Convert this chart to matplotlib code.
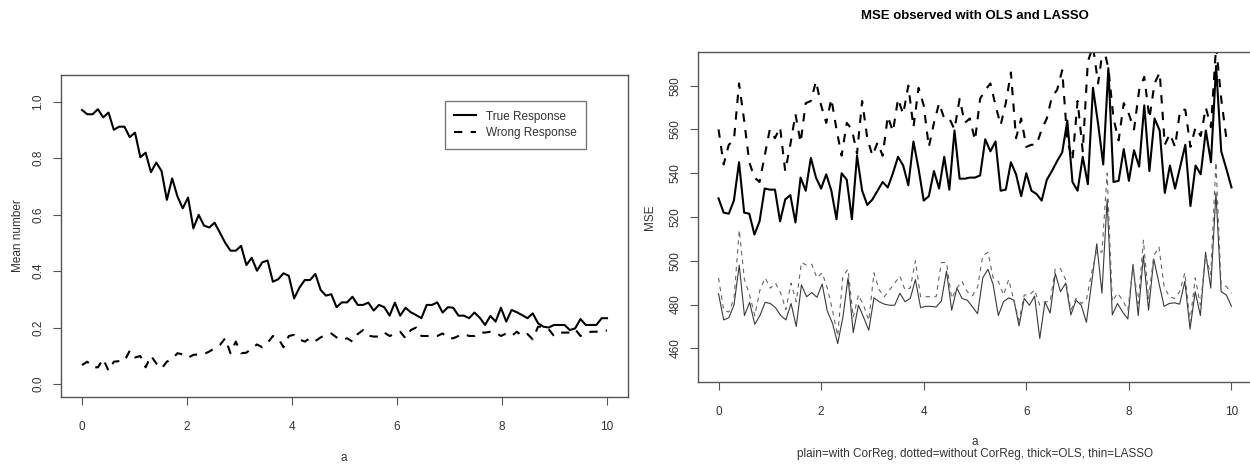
import numpy as np
import matplotlib
matplotlib.use("Agg")
import matplotlib.pyplot as plt

plt.rcParams['font.family'] = ['Liberation Sans', 'DejaVu Sans']

# ---- left panel: mean number of responses
true_resp = [0.970, 0.955, 0.955, 0.973, 0.944, 0.961, 0.900, 0.911, 0.911, 0.874,
             0.890, 0.803, 0.819, 0.750, 0.784, 0.754, 0.652, 0.728, 0.664, 0.622,
             0.660, 0.551, 0.599, 0.561, 0.554, 0.571, 0.536, 0.500, 0.472, 0.472,
             0.489, 0.421, 0.447, 0.401, 0.431, 0.437, 0.362, 0.371, 0.392, 0.383,
             0.303, 0.341, 0.368, 0.368, 0.390, 0.333, 0.313, 0.318, 0.272, 0.289,
             0.289, 0.309, 0.280, 0.280, 0.288, 0.260, 0.280, 0.272, 0.242, 0.288,
             0.242, 0.270, 0.254, 0.244, 0.233, 0.280, 0.280, 0.289, 0.253, 0.272,
             0.270, 0.242, 0.242, 0.233, 0.253, 0.235, 0.209, 0.241, 0.221, 0.270,
             0.221, 0.262, 0.254, 0.244, 0.233, 0.250, 0.215, 0.203, 0.200, 0.209,
             0.209, 0.209, 0.191, 0.197, 0.230, 0.209, 0.209, 0.209, 0.233, 0.233]
wrong_resp = [0.067, 0.079, 0.059, 0.059, 0.089, 0.047, 0.079, 0.081, 0.081, 0.118,
              0.094, 0.099, 0.059, 0.100, 0.073, 0.055, 0.079, 0.089, 0.109, 0.105,
              0.093, 0.103, 0.105, 0.106, 0.115, 0.126, 0.138, 0.162, 0.109, 0.150,
              0.109, 0.111, 0.126, 0.140, 0.130, 0.146, 0.170, 0.162, 0.130, 0.170,
              0.174, 0.158, 0.150, 0.162, 0.152, 0.165, 0.174, 0.179, 0.165, 0.156,
              0.162, 0.150, 0.177, 0.191, 0.171, 0.168, 0.168, 0.182, 0.170, 0.177,
              0.185, 0.162, 0.191, 0.200, 0.170, 0.170, 0.170, 0.170, 0.179, 0.162,
              0.162, 0.170, 0.177, 0.170, 0.170, 0.182, 0.182, 0.185, 0.182, 0.170,
              0.179, 0.170, 0.185, 0.170, 0.177, 0.158, 0.203, 0.203, 0.194, 0.170,
              0.182, 0.182, 0.182, 0.194, 0.170, 0.179, 0.185, 0.185, 0.191, 0.189]

# ---- right panel: MSE
ols_correg = [528.5, 522, 521.5, 527.5, 545, 522, 521.5, 512, 518, 533,
              532.5, 532.5, 518, 528, 530, 517.5, 538, 532, 547, 538,
              533, 539.5, 532, 519, 540, 537, 519, 548, 532, 525.5,
              528, 532, 536, 533.5, 540, 547.5, 543.5, 534.5, 554.5, 542,
              527.5, 529.5, 541, 533, 547.5, 532.5, 559.5, 537.5, 537.5, 538,
              538, 539, 555.5, 550, 554.5, 532, 532.5, 545, 539.5, 529.5,
              540, 532, 530.5, 527.5, 537, 541, 545.5, 549.5, 564, 536,
              532, 547.5, 535, 579, 562.5, 544, 588, 536, 536.5, 551,
              536.5, 550.5, 543, 571, 541, 565, 559.5, 531, 543.5, 533,
              543, 553, 525, 543.5, 539.5, 559.5, 545, 589, 550, 542, 533.5]
ols_nocorreg = [560, 544, 553, 555, 581, 564, 545, 538, 536, 548,
                560, 556, 561, 541, 553, 567, 554, 572, 573, 582,
                571, 563, 574, 560, 548, 563, 560, 549, 573, 556,
                548, 554, 548, 566, 559, 574, 567, 580, 561, 579,
                571, 552, 563, 572, 565, 565, 560, 574, 563, 565,
                555, 574, 578, 581, 571, 562, 572, 586, 556, 565,
                552, 553, 553, 560, 565, 575, 578, 587, 555, 546,
                573, 550, 591, 598, 581, 598, 588, 565, 555, 572,
                567, 560, 578, 584, 565, 581, 586, 553, 558, 552,
                569, 569, 552, 561, 557, 570, 561, 598, 574, 556, 555]
lasso_correg = [485, 473, 474, 480, 498, 475, 481, 471, 475, 481,
                480.5, 478.6, 475, 473, 480.5, 470, 489, 483.6, 485.5, 483.3,
                489.4, 477, 471.4, 462.2, 474.2, 492.2, 467.2, 479.7, 474.2, 468.3,
                483.1, 481.3, 480.2, 479.7, 479.7, 485.2, 481.3, 482.8, 491.4, 478.6,
                479.2, 479.2, 478.9, 481.6, 495.3, 477.4, 487.5, 482.8, 482, 479,
                475.8, 492.2, 496.1, 489.1, 475, 481.3, 483.1, 482, 470.3, 482.8,
                479.7, 483.9, 464.5, 481.3, 476.1, 494.2, 485.9, 489.8, 475.3, 482,
                479.7, 471.9, 489.8, 507.8, 485.2, 528, 475.3, 480.5, 476.6, 473.4,
                498.4, 475, 502.3, 477.4, 500.8, 489.8, 479.2, 480.5, 480.8, 480.2,
                490.6, 468.8, 485.9, 475, 503.9, 487.5, 531, 485.9, 484.4, 479.2]
lasso_nocorreg = [492.2, 477.4, 476.6, 482.8, 514, 491.4, 484.4, 475, 486.7, 492.2,
                  487.5, 489.8, 485.2, 477.7, 489.8, 481.3, 499.2, 498, 498.4, 492.2,
                  494.5, 487.5, 477.4, 465.7, 493, 496.1, 474.2, 484.4, 479.7, 472.7,
                  494.5, 486.7, 483.6, 486.7, 489.8, 493, 486.7, 487.5, 500, 483.6,
                  483.6, 483.6, 483.6, 499.2, 499.2, 482.8, 487.5, 490.6, 485.9, 484,
                  488, 502.3, 503.9, 492.2, 490.6, 484.4, 491.4, 482, 472.7, 484.4,
                  484.4, 486.7, 479.7, 481.3, 481.3, 496.4, 496.4, 491.4, 477.4, 482.8,
                  480.5, 482, 494.5, 504.7, 503.9, 540, 481.3, 485.2, 482, 477.4,
                  497.7, 480.5, 509.4, 482.8, 502.3, 506.3, 488.3, 483.6, 482.8, 485.9,
                  494.5, 471.9, 492.2, 479.7, 502.3, 493.8, 545, 489, 488.3, 485.2]

W, H = 1250, 467
INK = '#333333'
FS = 8.5


def px(x, y):
    # pixel position -> figure fraction
    return x / W, 1 - y / H


def r_style(ax):
    # base-R look: grey box, outward ticks, vertical y labels
    for s in ax.spines.values():
        s.set_color('#555555')
        s.set_linewidth(1.0)
    ax.tick_params(axis='both', direction='out', length=6, width=0.8,
                   color='#555555', labelcolor=INK, labelsize=FS)
    ax.tick_params(axis='x', pad=11)
    ax.tick_params(axis='y', pad=6)
    for lab in ax.get_yticklabels():
        lab.set_rotation(90)
        lab.set_va('center')


fig = plt.figure(figsize=(W / 100, H / 100), dpi=100)

# left panel
ax1 = fig.add_axes([61 / W, (H - 397) / H, 567 / W, 322 / H])
a1 = np.linspace(0, 10, len(true_resp))
a2 = np.linspace(0, 10, len(wrong_resp))
ax1.plot(a1, true_resp, color='black', lw=1.5, label='True Response')
ax1.plot(a2, wrong_resp, color='black', lw=1.5, linestyle=(0, (4, 4)),
         label='Wrong Response')
ax1.set_xlim(-0.4, 10.4)
ax1.set_ylim(-0.046, 1.094)
ax1.set_xticks([0, 2, 4, 6, 8, 10])
ax1.set_yticks([0.0, 0.2, 0.4, 0.6, 0.8, 1.0])
ax1.set_yticklabels(['0.0', '0.2', '0.4', '0.6', '0.8', '1.0'])
r_style(ax1)
leg = ax1.legend(loc='upper right', bbox_to_anchor=(0.926, 0.919),
                 borderaxespad=0, fancybox=False, frameon=True,
                 edgecolor='#555555', fontsize=FS, handlelength=1.85,
                 handletextpad=0.85, borderpad=0.8, labelspacing=0.4)
leg.get_frame().set_linewidth(1.0)
for t in leg.get_texts():
    t.set_color(INK)
fig.text(*px(344, 458), 'a', ha='center', va='center', fontsize=FS, color=INK)
fig.text(*px(18, 236), 'Mean number', ha='center', va='center', rotation=90,
         fontsize=FS, color=INK)

# right panel
ax2 = fig.add_axes([698 / W, (H - 382.3) / H, 554 / W, 330.6 / H])
b1 = np.linspace(0, 10, len(ols_correg))
b2 = np.linspace(0, 10, len(ols_nocorreg))
b3 = np.linspace(0, 10, len(lasso_correg))
b4 = np.linspace(0, 10, len(lasso_nocorreg))
ax2.plot(b3, lasso_correg, color='#3a3a3a', lw=0.8)
ax2.plot(b4, lasso_nocorreg, color='#666666', lw=0.8, linestyle=(0, (4, 4)))
ax2.plot(b1, ols_correg, color='black', lw=1.5)
ax2.plot(b2, ols_nocorreg, color='black', lw=1.5, linestyle=(0, (4, 4)))
ax2.set_xlim(-0.4, 10.4)
ax2.set_ylim(444.5, 595.5)
ax2.set_xticks([0, 2, 4, 6, 8, 10])
ax2.set_yticks([460, 480, 500, 520, 540, 560, 580])
r_style(ax2)
fig.text(*px(975, 442), 'a', ha='center', va='center', fontsize=FS, color=INK)
fig.text(*px(975, 454),
         'plain=with CorReg, dotted=without CorReg, thick=OLS, thin=LASSO',
         ha='center', va='center', fontsize=FS, color=INK)
fig.text(*px(650, 217), 'MSE', ha='center', va='center', rotation=90,
         fontsize=FS, color=INK)
fig.text(*px(975, 16), 'MSE observed with OLS and LASSO', ha='center',
         va='center', fontsize=9.5, fontweight='bold', color='black')

fig.savefig('out.png', dpi=100)
